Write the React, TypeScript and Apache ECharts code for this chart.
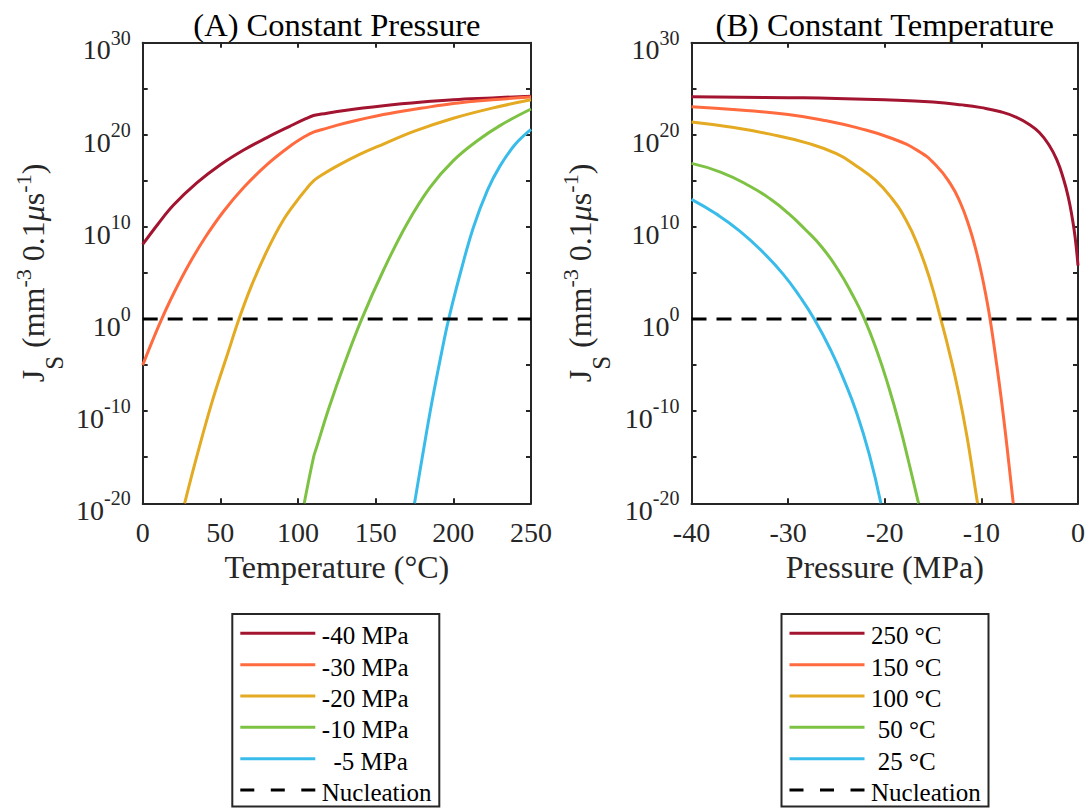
import React, { useEffect, useRef } from 'react';
import * as echarts from 'echarts';

// ---------- data ----------
const seriesColors = ['#A2142F', '#FF6B3F', '#E3AA22', '#7DC243', '#3ABCEB'];
const pressureLabels = ['-40 MPa', '-30 MPa', '-20 MPa', '-10 MPa', '-5 MPa'];
const tempLabels = ['250 °C', '150 °C', '100 °C', '50 °C', '25 °C'];
const nucleationLabel = 'Nucleation';
const nucleationLogJ = 0; // J = 10^0

// axes ranges (exponent of J on y)
const tempRange = [0, 250];
const tempStep = 50;
const presRange = [-40, 0];
const presStep = 10;
const logJRange = [-20, 30];
const logJTickStep = 5;
const logJLabelStep = 10;

// Panel A: Constant pressure, x = temperature (°C), y = log10(J)
const tempA_m40 = [0, 10, 20, 35, 50, 65, 80, 95, 105, 110, 115, 130, 155, 180, 200, 225, 250];
const logJA_m40 = [8.1, 10.35, 12.4, 14.8, 16.75, 18.35, 19.7, 20.95, 21.75, 22.1, 22.25, 22.65, 23.15, 23.55, 23.8, 24.0, 24.2];
const tempA_m30 = [0, 6, 12, 20, 30, 40, 52, 65, 80, 95, 105, 110, 115, 130, 155, 180, 200, 225, 250];
const logJA_m30 = [-5.0, -2.48, -0.08, 2.8, 6.0, 8.8, 11.68, 14.28, 16.76, 18.78, 19.88, 20.3, 20.55, 21.25, 22.2, 22.9, 23.4, 23.8, 24.1];
const tempA_m20 = [27, 35, 45, 55, 62, 70, 80, 90, 100, 105, 110, 115, 125, 140, 155, 175, 200, 225, 250];
const logJA_m20 = [-20, -14.8, -8.8, -3.6, 0, 3.6, 7.4, 10.6, 13.0, 14.05, 15.0, 15.6, 16.6, 17.9, 19.0, 20.4, 21.8, 22.9, 23.8];
const tempA_m10 = [104, 110, 112, 120, 130, 141, 155, 170, 185, 200, 215, 230, 250];
const logJA_m10 = [-20, -15.0, -13.9, -9.6, -4.8, 0, 5.3, 10.3, 14.3, 17.2, 19.3, 21.0, 22.8];
const tempA_m5 = [175, 180, 186, 192, 197, 205, 213, 222, 230, 240, 250];
const logJA_m5 = [-20, -15.0, -9.2, -4.0, 0, 5.3, 10.0, 14.0, 16.6, 19.0, 20.6];

// Panel B: Constant temperature, x = pressure (MPa), y = log10(J)
const presB_250 = [-40, -35, -30, -25, -20, -15, -12, -10, -8, -6.5, -5, -4, -3, -2.2, -1.5, -1.0, -0.6, -0.3, 0];
const logJB_250 = [24.12, 24.08, 24.03, 23.95, 23.8, 23.55, 23.25, 22.95, 22.5, 21.95, 21.1, 20.25, 18.9, 17.3, 15.2, 13.2, 11.0, 8.9, 5.8];
const presB_150 = [-40, -35, -30, -26, -22.9, -19.3, -16.5, -14.7, -13.2, -12.2, -11.3, -10.6, -10.0, -9.5, -9.1, -8.5, -7.9, -7.3, -6.7];
const logJB_150 = [23.05, 22.7, 22.2, 21.52, 20.78, 19.63, 18.23, 16.7, 14.68, 12.68, 10.16, 7.64, 5.0, 2.4, 0, -4.3, -9.0, -14.3, -20];
const presB_100 = [-40, -36, -32, -28, -25, -22.9, -21, -19.3, -17.8, -16.5, -15.3, -14.2, -13.2, -12.3, -11.5, -10.9, -10.4];
const logJB_100 = [21.4, 20.85, 20.1, 19.1, 17.95, 16.6, 15.1, 13.15, 10.75, 7.8, 4.2, 0, -4.1, -8.3, -12.7, -16.6, -20];
const presB_50 = [-40, -37, -34, -31.8, -30, -28.3, -26.5, -24.8, -23.4, -22.1, -20.8, -19.6, -18.5, -17.5, -16.5];
const logJB_50 = [16.9, 15.95, 14.45, 13.0, 11.5, 9.8, 7.8, 5.3, 2.75, 0, -3.5, -7.35, -11.4, -15.6, -20];
const presB_25 = [-40, -37.5, -35, -32.5, -30.5, -28.8, -27.3, -25.6, -24.2, -22.9, -21.6, -20.4];
const logJB_25 = [13.0, 11.45, 9.55, 7.15, 4.85, 2.45, 0, -3.35, -6.65, -10.2, -14.7, -20];

const panelAX = [tempA_m40, tempA_m30, tempA_m20, tempA_m10, tempA_m5];
const panelAY = [logJA_m40, logJA_m30, logJA_m20, logJA_m10, logJA_m5];
const panelBX = [presB_250, presB_150, presB_100, presB_50, presB_25];
const panelBY = [logJB_250, logJB_150, logJB_100, logJB_50, logJB_25];

// ---------- styles ----------
const FONT = 'Liberation Serif, Times New Roman, serif';
const AX = '#262626';
const TICK_FS = 28;
const NAME_FS = 32;
const TITLE_FS = 32.5;
const LEG_FS = 25;

const pairs = (xs: number[], ys: number[]) => xs.map((x, i) => [x, ys[i]]);

function yLabelFormatter(v: number) {
  const e = Math.round(v);
  return e % logJLabelStep === 0 ? `{b|10}{s|${e}}` : '';
}

const yLabelRich = {
  b: { fontSize: TICK_FS, verticalAlign: 'top', padding: [8.3, 0, 0, 0], fontFamily: FONT, color: AX },
  s: { fontSize: 20, verticalAlign: 'top', fontFamily: FONT, color: AX },
};

const yNameText = '{n|J}{sub|S}{n| (mm}{sup|-3}{n| 0.1}{mu|μ}{n|s}{sup|-1}{n|)}';
const yNameStyle = {
  fontFamily: FONT,
  fontSize: NAME_FS,
  color: AX,
  rich: {
    n: { fontSize: NAME_FS, verticalAlign: 'top', padding: [4.6, 0, 0, 0], fontFamily: FONT, color: AX },
    mu: { fontSize: NAME_FS, verticalAlign: 'top', padding: [4.6, 0, 0, 0], fontFamily: FONT, fontStyle: 'italic', color: AX },
    sup: { fontSize: 22, verticalAlign: 'top', fontFamily: FONT, color: AX },
    sub: { fontSize: 25, verticalAlign: 'top', padding: [29.5, 0, 0, 0], fontFamily: FONT, color: AX },
  },
};

const axisLine = { show: true, onZero: false, lineStyle: { color: AX, width: 2 } };
const axisTick = { show: true, inside: true, length: 5, lineStyle: { color: AX, width: 2 } };

function xAxes(gridIndex: number, range: number[], step: number, name: string) {
  return [
    {
      gridIndex, type: 'value', min: range[0], max: range[1], interval: step, position: 'bottom',
      name, nameLocation: 'middle', nameGap: 48,
      nameTextStyle: { fontFamily: FONT, fontSize: NAME_FS, lineHeight: 32, color: AX },
      axisLine, axisTick,
      axisLabel: { margin: 14.7, fontSize: TICK_FS, lineHeight: 28, fontFamily: FONT, color: AX },
      splitLine: { show: false },
    },
    {
      gridIndex, type: 'value', min: range[0], max: range[1], interval: step, position: 'top',
      axisLine, axisTick, axisLabel: { show: false }, splitLine: { show: false },
    },
  ];
}

function yAxes(gridIndex: number, nameGap: number) {
  return [
    {
      gridIndex, type: 'value', min: logJRange[0], max: logJRange[1], interval: logJTickStep, position: 'left',
      name: yNameText, nameLocation: 'middle', nameGap, nameTextStyle: yNameStyle,
      axisLine, axisTick,
      axisLabel: {
        margin: 12, padding: [6.2, 0, 0, 0], formatter: yLabelFormatter, rich: yLabelRich,
        fontFamily: FONT, fontSize: TICK_FS, color: AX,
      },
      splitLine: { show: false },
    },
    {
      gridIndex, type: 'value', min: logJRange[0], max: logJRange[1], interval: logJTickStep, position: 'right',
      axisLine, axisTick, axisLabel: { show: false }, splitLine: { show: false },
    },
  ];
}

function curveSeries(names: string[], xs: number[][], ys: number[][], xAxisIndex: number, yAxisIndex: number, smooth: number) {
  return names.map((name, i) => ({
    name, type: 'line', xAxisIndex, yAxisIndex,
    data: pairs(xs[i], ys[i]),
    showSymbol: false, symbol: 'none', smooth, clip: true,
    lineStyle: { color: seriesColors[i], width: 3 },
    z: 2,
  }));
}

function nucleationSeries(range: number[], xAxisIndex: number, yAxisIndex: number) {
  return {
    name: nucleationLabel, type: 'line', xAxisIndex, yAxisIndex,
    data: [[range[0], nucleationLogJ], [range[1], nucleationLogJ]],
    showSymbol: false, symbol: 'none',
    lineStyle: { color: '#000', width: 3, type: [15, 10] },
    z: 3,
  };
}

function legendBox(x0: number, labels: string[], indents: number[]) {
  const top = 614;
  const rowY = (i: number) => 633.3 + i * 31.35;
  const els: any[] = [
    { type: 'rect', shape: { x: x0, y: top, width: 207, height: 192.5 }, style: { fill: '#fff', stroke: AX, lineWidth: 2 }, z: 100 },
  ];
  const all = [...labels, nucleationLabel];
  all.forEach((lab, i) => {
    const isNuc = i === labels.length;
    els.push({
      type: 'line', z: 101,
      shape: { x1: x0 + 8, y1: rowY(i), x2: x0 + 83, y2: rowY(i) },
      style: isNuc
        ? { stroke: '#000', lineWidth: 3, lineDash: [14, 16.5] }
        : { stroke: seriesColors[i], lineWidth: 3 },
    });
    els.push({
      type: 'text', z: 101,
      x: x0 + 89.5 + (isNuc ? 0 : indents[i]), y: rowY(i) + 2.5,
      style: {
        text: lab, fontSize: LEG_FS, fontFamily: FONT, fill: '#000',
        verticalAlign: 'middle', textVerticalAlign: 'middle', align: 'left', textAlign: 'left',
      },
    });
  });
  return els;
}

function titleText(text: string, cx: number) {
  return {
    type: 'text', x: cx, y: 25.3,
    style: {
      text, fontSize: TITLE_FS, fontFamily: FONT, fill: '#000',
      align: 'center', textAlign: 'center', verticalAlign: 'middle', textVerticalAlign: 'middle',
    },
  };
}

export default function App() {
  const ref = useRef<HTMLDivElement>(null);
  useEffect(() => {
    if (!ref.current) return;
    const chart = echarts.init(ref.current, undefined, { renderer: 'svg' });
    const GA = { left: 142.7, top: 42.7, width: 388.3, height: 460.6 };
    const GB = { left: 691.5, top: 42.7, width: 386.5, height: 460.6 };
    const option: any = {
      animation: false,
      backgroundColor: '#ffffff',
      textStyle: { fontFamily: FONT },
      grid: [GA, GB],
      xAxis: [
        ...xAxes(0, tempRange, tempStep, 'Temperature (°C)'),
        ...xAxes(1, presRange, presStep, 'Pressure (MPa)'),
      ],
      yAxis: [...yAxes(0, 76.1), ...yAxes(1, 77.9)],
      series: [
        ...curveSeries(pressureLabels, panelAX, panelAY, 0, 0, 0.4),
        nucleationSeries(tempRange, 0, 0),
        ...curveSeries(tempLabels, panelBX, panelBY, 2, 2, 0.5),
        nucleationSeries(presRange, 2, 2),
      ],
      graphic: [
        titleText('(A) Constant Pressure', GA.left + GA.width / 2),
        titleText('(B) Constant Temperature', GB.left + GB.width / 2),
        ...legendBox(232.3, pressureLabels, [0, 0, 0, 0, 11.7]),
        ...legendBox(781.5, tempLabels, [0, 0, 0, 6.7, 6.7]),
      ],
    };
    chart.setOption(option);
    return () => chart.dispose();
  }, []);
  return (
    <div
      ref={ref}
      style={{ position: 'absolute', left: 0, top: 0, width: 1088, height: 810, background: '#fff' }}
    />
  );
}
